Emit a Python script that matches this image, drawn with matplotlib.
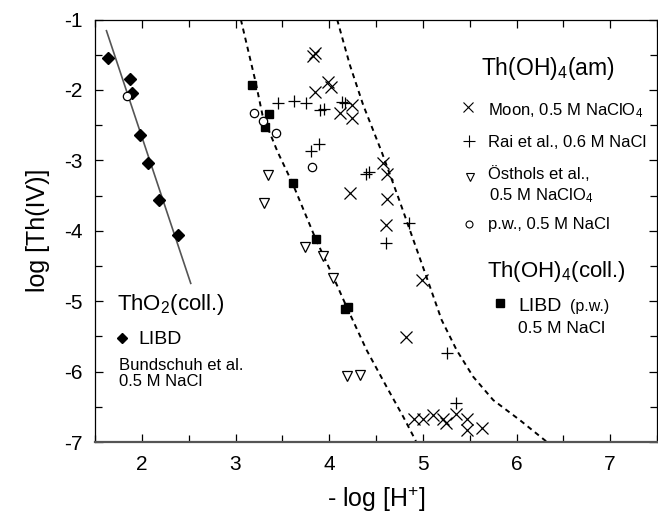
import matplotlib
matplotlib.use("Agg")
import matplotlib.pyplot as plt
from matplotlib.ticker import MultipleLocator

plt.rcParams['font.family'] = ['Liberation Sans', 'DejaVu Sans']
plt.rcParams['mathtext.fontset'] = 'custom'
plt.rcParams['mathtext.rm'] = 'Liberation Sans'
plt.rcParams['mathtext.default'] = 'regular'

# ThO2(coll.) LIBD data (Bundschuh et al.)
tho2_x = [1.639, 1.871, 1.900, 1.978, 2.071, 2.181, 2.391]
tho2_y = [-1.551, -1.849, -2.040, -2.645, -3.043, -3.568, -4.061]
fit_x = [1.622, 2.522]
fit_y = [-1.159, -4.747]

# Th(OH)4(am): Moon, 0.5 M NaClO4
moon_x = [3.823, 3.847, 3.989, 4.015, 3.847, 4.239, 4.114, 4.239, 4.577, 4.620,
          4.221, 4.613, 4.606, 4.987, 4.819, 4.908, 5.004, 5.111, 5.218, 5.244,
          5.354, 5.468, 5.468, 5.635]
moon_y = [-1.518, -1.472, -1.884, -1.955, -2.026, -2.214, -2.332, -2.403, -3.034, -3.199,
          -3.460, -3.554, -3.919, -4.700, -5.514, -6.675, -6.675, -6.618, -6.675, -6.736,
          -6.608, -6.675, -6.831, -6.807]

# Rai et al., 0.6 M NaCl
rai_x = [3.455, 3.626, 3.751, 3.901, 3.943, 4.132, 4.168, 3.801, 3.893, 4.389,
         4.424, 4.855, 4.606, 5.254, 5.350]
rai_y = [-2.182, -2.158, -2.190, -2.286, -2.276, -2.176, -2.190, -2.868, -2.773, -3.199,
         -3.162, -3.886, -4.179, -5.741, -6.443]

# Östhols et al., 0.5 M NaClO4
ost_x = [3.348, 3.306, 3.740, 3.936, 4.043, 4.186, 4.328]
ost_y = [-3.209, -3.602, -4.227, -4.359, -4.668, -6.060, -6.050]

# p.w., 0.5 M NaCl
pw_x = [1.846, 3.199, 3.295, 3.427, 3.818]
pw_y = [-2.087, -2.332, -2.442, -2.616, -3.099]

# Th(OH)4(coll.) LIBD (p.w.)
libd_x = [3.171, 3.359, 3.313, 3.609, 3.855, 4.203, 4.168]
libd_y = [-1.930, -2.342, -2.531, -3.327, -4.114, -5.080, -5.112]

# dashed solubility curves (traced)
cl_x = [3.057, 3.214, 3.288, 3.449, 3.609, 3.855, 4.043, 4.186, 4.400, 4.613, 4.791, 4.926]
cl_y = [-1.0, -1.884, -2.357, -2.878, -3.327, -4.114, -4.653, -5.080, -5.695, -6.216, -6.642, -6.987]
cr_x = [4.085, 4.221, 4.363, 4.560, 4.748, 5.076, 5.201, 5.361, 5.538, 5.752, 6.037, 6.323]
cr_y = [-1.0, -1.646, -2.214, -2.878, -3.564, -4.795, -5.268, -5.695, -6.074, -6.405, -6.690, -6.997]

fig = plt.figure(figsize=(6.58, 5.15), dpi=100)
ax = fig.add_axes([0.1444, 0.1417, 0.8541, 0.8204])

dash = (0, (2.6, 2.2))
ax.plot(cl_x, cl_y, color='black', lw=1.4, linestyle=dash, zorder=2)
ax.plot(cr_x, cr_y, color='black', lw=1.4, linestyle=dash, zorder=2)
ax.plot(fit_x, fit_y, color='#555555', lw=1.2, zorder=2)

ax.plot(tho2_x, tho2_y, 'D', color='black', ms=6, zorder=3, linestyle='none')
ax.plot(moon_x, moon_y, 'x', color='black', ms=8, mew=0.9, zorder=3, linestyle='none')
ax.plot(rai_x, rai_y, '+', color='black', ms=9, mew=0.9, zorder=3, linestyle='none')
ax.plot(ost_x, ost_y, 'v', mfc='white', mec='black', ms=7, mew=0.9, zorder=3, linestyle='none')
ax.plot(libd_x, libd_y, 's', color='black', ms=6, zorder=3, linestyle='none')
ax.plot(pw_x, pw_y, 'o', mfc='white', mec='black', ms=6, mew=0.9, zorder=4, linestyle='none')

ax.set_xlim(1.5, 7.5)
ax.set_ylim(-7, -1)
ax.xaxis.set_major_locator(MultipleLocator(1))
ax.xaxis.set_minor_locator(MultipleLocator(0.5))
ax.yaxis.set_major_locator(MultipleLocator(1))
ax.yaxis.set_minor_locator(MultipleLocator(0.5))
ax.tick_params(which='both', direction='in', top=True, right=True, width=0.9)
ax.tick_params(which='major', length=6)
ax.tick_params(which='minor', length=5)
ax.tick_params(axis='x', labelsize=15, pad=9)
ax.tick_params(axis='y', labelsize=15, pad=9)
ax.set_yticklabels([f"{int(v)}" for v in ax.get_yticks()])
for s in ['top', 'left', 'right']:
    ax.spines[s].set_linewidth(0.9)
ax.spines['bottom'].set_linewidth(1.6)
ax.spines['bottom'].set_color('#555555')

ax.set_xlabel('- log [H$^{+}$]', fontsize=18, labelpad=8)
ax.set_ylabel('log [Th(IV)]', fontsize=18, labelpad=10)

# legend block: Th(OH)4(am)
ax.text(5.618, -1.788, 'Th(OH)$_4$(am)', fontsize=16.5, va='baseline', ha='left')
ax.plot([5.485], [-2.239], 'x', color='black', ms=7, mew=0.8, clip_on=False)
ax.text(5.699, -2.366, 'Moon, 0.5 M NaClO$_4$', fontsize=12, va='baseline', ha='left')
ax.plot([5.496], [-2.722], '+', color='black', ms=8, mew=0.8)
ax.text(5.699, -2.815, 'Rai et al., 0.6 M NaCl', fontsize=12, va='baseline', ha='left')
ax.plot([5.503], [-3.241], 'v', mfc='white', mec='black', ms=6, mew=0.8)
ax.text(5.699, -3.27, 'Östhols et al.,', fontsize=12, va='baseline', ha='left')
ax.text(5.709, -3.564, '0.5 M NaClO$_4$', fontsize=12, va='baseline', ha='left')
ax.plot([5.496], [-3.905], 'o', mfc='white', mec='black', ms=5, mew=0.8)
ax.text(5.699, -3.98, 'p.w., 0.5 M NaCl', fontsize=12, va='baseline', ha='left')

# legend block: Th(OH)4(coll.)
ax.text(5.688, -4.653, 'Th(OH)$_4$(coll.)', fontsize=16, va='baseline', ha='left')
ax.plot([5.824], [-5.031], 's', color='black', ms=6)
ax.text(6.019, -5.136, 'LIBD', fontsize=14, va='baseline', ha='left')
ax.text(6.572, -5.136, '(p.w.)', fontsize=11.5, va='baseline', ha='left')
ax.text(6.019, -5.449, '0.5 M NaCl', fontsize=12.5, va='baseline', ha='left')

# legend block: ThO2(coll.)
ax.text(1.735, -5.127, 'ThO$_2$(coll.)', fontsize=16, va='baseline', ha='left')
ax.plot([1.788], [-5.52], 'D', color='black', ms=5.5)
ax.text(1.959, -5.61, 'LIBD', fontsize=14, va='baseline', ha='left')
ax.text(1.753, -5.979, 'Bundschuh et al.', fontsize=12, va='baseline', ha='left')
ax.text(1.753, -6.205, '0.5 M NaCl', fontsize=12, va='baseline', ha='left')

fig.savefig('out.png', dpi=100)
